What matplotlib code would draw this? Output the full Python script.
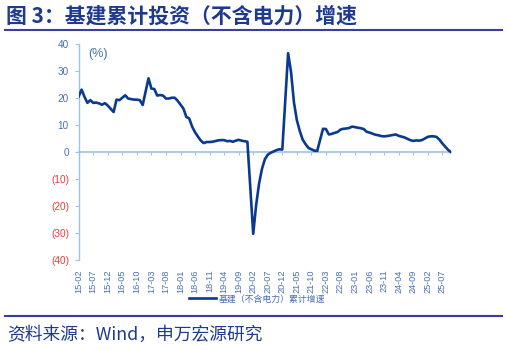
import matplotlib
matplotlib.use("Agg")
import matplotlib.pyplot as plt
from matplotlib.lines import Line2D
import numpy as np
import pandas as pd

plt.rcParams["font.family"] = ["Liberation Sans", "Noto Sans CJK SC", "DejaVu Sans"]

# cumulative YoY growth (%), Jan has no print (Jan-Feb combined) -> None
v2015 = [20.6, 23.1, 20.4, 18.2, 19.2, 18.2, 18.3, 18.0, 17.5, 18.1, 17.2]  # Feb-Dec
v2016 = [None, 14.8, 19.4, 19.2, 20.1, 21.0, 19.8, 19.6, 19.4, 19.4, 19.2, 17.4]
v2017 = [None, 27.3, 23.5, 23.3, 20.9, 21.1, 20.9, 19.8, 19.8, 20.1, 20.1, 19.0]
v2018 = [None, 16.1, 13.0, 12.4, 9.4, 7.3, 5.7, 4.2, 3.3, 3.7, 3.7, 3.8]
v2019 = [None, 4.3, 4.4, 4.4, 4.0, 4.1, 3.8, 4.2, 4.5, 4.2, 4.0, 3.8]
v2020 = [None, -30.3, -19.7, -11.8, -6.3, -2.7, -1.0, -0.3, 0.2, 0.7, 1.0, 0.9]
v2021 = [None, 36.6, 29.7, 18.4, 11.8, 7.8, 4.6, 2.9, 1.5, 1.0, 0.5, 0.4]
v2022 = [None, 8.6, 8.5, 6.5, 6.7, 7.1, 7.4, 8.3, 8.6, 8.7, 8.9, 9.4]
v2023 = [None, 9.0, 8.8, 8.5, 7.5, 7.2, 6.8, 6.4, 6.2, 5.9, 5.8, 5.9]
v2024 = [None, 6.3, 6.5, 6.0, 5.7, 5.4, 4.9, 4.4, 4.1, 4.3, 4.2, 4.4]
v2025 = [None, 5.6, 5.8, 5.8, 5.6, 4.6, 3.2, 2.0, 0.8, -0.1]  # Jan-Oct

months = pd.period_range("2015-02", "2025-10", freq="M")
values = (v2015 + v2016 + v2017 + v2018 + v2019 + v2020 + v2021 + v2022
          + v2023 + v2024 + v2025)
month_labels = [m.strftime("%y-%m") for m in months]

y_ticks = [40, 30, 20, 10, 0, -10, -20, -30, -40]

TITLE_C = "#1d3a8f"
LINE_C = "#0a3a90"
AXIS_C = "#9ec3e8"
LABEL_C = "#4a6fb3"
NEG_C = "#f03a3a"

idx = np.arange(len(months))
vals = np.array([np.nan if v is None else v for v in values], dtype=float)
ok = ~np.isnan(vals)

fig = plt.figure(figsize=(5.08, 3.5), dpi=100)
ax = fig.add_axes([78.7 / 508, 90 / 350, (451 - 78.7) / 508, 216 / 350])

ax.plot(idx[ok], vals[ok], color=LINE_C, lw=1.9, solid_joinstyle="round",
        label="基建（不含电力）累计增速", zorder=3)

ax.set_xlim(0, len(months) - 1)
ax.set_ylim(-40, 40)

for s in ["top", "right", "bottom"]:
    ax.spines[s].set_visible(False)
ax.spines["left"].set_color(AXIS_C)
ax.spines["left"].set_linewidth(1.0)

# y ticks
ax.set_yticks(y_ticks)
ax.set_yticklabels([f"{v}" if v >= 0 else f"({-v})" for v in y_ticks])
ax.tick_params(axis="y", direction="out", length=3, width=0.8, color=AXIS_C,
               labelsize=7.2, pad=4)
for lab, v in zip(ax.get_yticklabels(), y_ticks):
    lab.set_color(LABEL_C if v >= 0 else NEG_C)

# x labels at the bottom, every 5 months
tick_idx = idx[::5]
ax.set_xticks(tick_idx)
ax.set_xticklabels([month_labels[i] for i in tick_idx], rotation=90,
                   fontsize=6.6, color=LABEL_C)
ax.tick_params(axis="x", length=0, pad=7)

# zero line carrying the tick marks
sec = ax.secondary_xaxis(0.5)
sec.set_alignment("bottom")
sec.set_xticks(tick_idx)
sec.set_xticklabels([])
sec.tick_params(direction="out", length=2.5, width=0.8, color=AXIS_C)
sec.spines["bottom"].set_color(AXIS_C)
sec.spines["bottom"].set_linewidth(1.2)

ax.text(0.025, 0.955, "(%)", transform=ax.transAxes, fontsize=9,
        color=LABEL_C, va="center", ha="left")

leg = fig.legend(loc="center", bbox_to_anchor=(0.506, 1 - 299 / 350),
                 frameon=False, fontsize=6.4, handlelength=3.0,
                 handletextpad=0.25, borderpad=0)
for t in leg.get_texts():
    t.set_color(LABEL_C)

# title and footer
fig.text(6.5 / 508, 1 - 16.5 / 350, "图 3：基建累计投资（不含电力）增速",
         fontsize=15, fontweight="bold", color=TITLE_C, va="center", ha="left",
         family=["Noto Sans CJK SC", "DejaVu Sans"])
fig.add_artist(Line2D([5 / 508, 502 / 508], [1 - 30 / 350] * 2,
                      color="#3a3f9e", lw=1.5))
fig.add_artist(Line2D([5 / 508, 502 / 508], [1 - 316 / 350] * 2,
                      color="#3a3f9e", lw=1.5))
fig.text(7 / 508, 1 - 335 / 350, "资料来源：Wind，申万宏源研究",
         fontsize=12.8, color=TITLE_C, va="center", ha="left",
         family=["Noto Sans CJK SC", "DejaVu Sans"])

fig.savefig("out.png", dpi=100)
